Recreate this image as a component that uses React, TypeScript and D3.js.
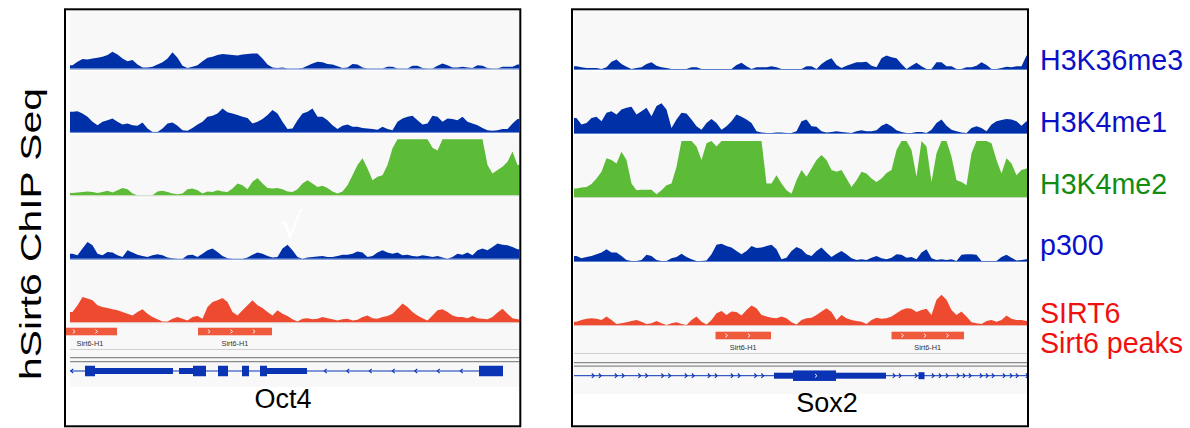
import React from "react";
import * as d3 from "d3";

// ---------- data ----------
const trackNames = ["H3K36me3", "H3K4me1", "H3K4me2", "p300", "SIRT6"];
const trackColors = ["#0030a8", "#0030a8", "#5cbb37", "#0030a8", "#ee4a30"];
const baselineColors = ["#5a7fd0", "#5a7fd0", "#c9d9c0", "#5a7fd0", "#e8b8b0"];
const labelColors = ["#0a10c8", "#0a10c8", "#118c11", "#0a10c8", "#f01010"];
const peakTrackLabel = "Sirt6 peaks";
const peakName = "Sirt6-H1";
const yAxisTitle = "hSirt6 ChIP Seq";

// Oct4 locus (90 bins)
const oct4H3K36me3 = [6,12,17,16,18,19,21,24,30,25, 18,13,15,7,2,2,3,7,11,18, 29,19,5,1,3,6,13,19,21,24, 26,25,24,23,25,26,27,27,18,7, 2,1,2,0,0,0,1,5,9,12, 11,8,7,4,1,2,8,7,2,0, 0,0,0,3,3,0,0,0,5,5, 1,0,0,5,9,6,2,2,3,2, 1,6,5,1,0,0,3,3,3,7];
const oct4H3K4me1 = [36,37,33,27,18,12,18,21,24,18, 13,15,12,11,17,6,0,0,6,15, 17,11,3,2,7,13,18,27,29,33, 42,35,33,30,27,25,15,18,23,30, 39,33,18,5,6,21,33,36,42,27, 27,21,12,5,11,13,9,9,7,6, 5,4,9,5,3,18,24,27,29,21, 13,15,29,27,18,24,23,21,27,18, 15,12,7,3,2,3,5,5,15,23];
const oct4H3K4me2 = [4,5,6,7,6,4,6,8,5,9, 13,11,3,0,0,0,0,7,8,6, 3,2,3,11,12,9,3,7,6,9, 7,6,12,21,18,11,24,31,21,13, 12,13,11,7,6,11,21,27,21,15, 17,13,7,3,7,18,36,54,66,48, 27,33,36,54,84,110,120,125,120,118, 120,100,85,80,110,125,120,120,118,122, 120,118,115,54,39,45,51,60,78,54];
const oct4P300 = [9,6,18,30,24,9,6,12,11,6, 3,15,11,7,5,3,6,8,6,2, 1,0,0,6,7,3,9,15,18,12, 5,1,0,0,0,2,7,11,9,5, 2,3,18,25,15,3,0,2,3,4, 5,3,3,5,7,7,9,13,11,3, 5,11,15,11,9,11,6,7,5,4, 6,5,3,5,2,0,3,9,7,11, 6,15,18,15,21,27,25,24,21,17];
const oct4SIRT6 = [18,30,45,42,39,30,27,25,23,21, 18,15,12,18,23,15,9,5,1,1, 6,9,6,3,9,11,6,27,36,39, 43,36,18,12,21,30,39,30,25,18, 12,21,15,11,5,1,6,7,5,6, 9,7,5,3,5,6,3,4,9,12, 7,6,9,11,15,24,33,27,18,12, 7,3,12,21,23,18,12,9,9,7, 11,7,6,5,9,17,24,15,7,5];

// Sox2 locus (91 bins)
const sox2H3K36me3 = [5,3,2,2,2,0,3,13,17,9, 4,0,2,3,9,12,6,3,2,0, 0,0,0,3,3,0,0,0,0,0, 0,0,7,11,5,0,3,3,3,5, 3,0,0,0,0,0,5,5,0,9, 15,19,7,2,6,9,12,12,13,6, 3,19,24,21,19,9,0,6,11,5, 0,0,12,12,5,5,0,0,3,3, 6,12,7,0,0,2,4,3,5,5, 24];
const sox2H3K4me1 = [27,15,18,27,29,21,36,39,33,42, 45,47,33,39,45,30,48,53,42,9, 24,36,35,24,12,6,18,25,18,6, 12,21,33,29,24,18,3,1,0,0, 1,1,0,0,3,21,24,12,11,3, 1,2,3,2,1,0,3,5,3,3, 5,13,17,12,5,2,0,0,2,2, 0,6,18,24,13,6,3,1,0,9, 12,9,3,15,21,23,25,24,21,13, 21];
const sox2H3K4me2 = [15,17,18,23,33,45,69,66,60,81, 66,24,12,13,13,13,5,12,21,24, 54,120,125,120,90,66,96,120,90,120, 125,120,122,120,125,120,120,118,24,24, 39,24,12,6,30,48,36,51,66,75, 66,48,45,48,33,18,30,45,42,33, 27,33,43,48,84,120,120,84,36,120, 90,27,78,120,120,72,30,27,21,78, 120,120,120,96,66,42,69,60,39,48, 51];
const sox2P300 = [9,5,7,9,12,15,21,15,15,9, 2,0,0,2,11,9,2,0,0,5, 7,13,7,3,0,0,1,12,29,31, 27,24,18,12,18,27,23,24,27,29, 21,3,6,18,25,21,12,9,18,24, 15,7,13,18,12,5,2,3,2,6, 9,5,3,6,12,11,6,7,3,15, 21,5,2,3,2,3,0,11,12,12, 11,0,0,0,0,7,11,6,1,2, 3];
const sox2SIRT6 = [6,9,11,12,11,9,15,9,2,3, 5,7,9,6,2,3,7,3,0,3, 5,2,0,9,15,6,1,9,21,25, 18,24,23,17,27,35,30,18,15,13, 12,15,12,5,1,9,12,13,18,24, 30,23,9,18,12,9,7,6,2,9, 13,11,12,15,21,27,30,29,23,27, 29,18,45,54,45,27,18,24,15,5, 3,2,7,9,6,9,17,11,9,9, 7];

// peaks [start, end] in bins
const oct4Peaks = [[-1.4, 9.4], [25.6, 40.4]];
const sox2Peaks = [[28.3, 39.4], [63.5, 78]];

// gene models: [start, end, kind]
const oct4Exons: [number, number, string][] = [
  [3, 5, "cds"], [5, 20.6, "utr"], [21.8, 24.6, "utr"], [24.6, 27.2, "cds"],
  [29.6, 31.6, "cds"], [34.4, 35.8, "cds"], [38, 39.4, "cds"], [39.4, 47.4, "utr"], [81.8, 86.6, "cds"],
];
const oct4GeneSpan = [0, 86.6];
const oct4IntronArrows = [0.4, 51.1, 55.6, 60.1, 64.7, 69.2, 73.7, 78.3];
const sox2Exons: [number, number, string][] = [
  [40, 43.8, "utr"], [43.8, 52.4, "cds"], [52.4, 62.4, "utr"], [68.9, 70.1, "small"],
];
const sox2GeneSpan = [0, 91];
const sox2IntronArrows = [3.8, 5.2, 8.4, 9.8, 13.1, 14.5, 17.7, 19.1, 22.4, 23.8, 27, 28.4, 31.6, 33, 36.3, 37.7,
  64, 65.2, 68.4, 71.8, 73.2, 74.6, 76.8, 78, 79.2, 81.4, 82.6, 83.8, 86, 87.4, 88.6, 90.6];
const sox2ExonArrows = [48.4];

const geneColor = "#0b34b4";
const peakColor = "#f05a3c";
const FONT = "'Liberation Sans', Arial, Helvetica, sans-serif";

type Cfg = {
  id: string; fx: number; fw: number; x0: number; x1: number; bgBottom: number;
  base0: number; step: number; trackH: number; peakY: number; peakH: number; peakLabelY: number;
  sepY: number; dblY: number[]; geneY: number; geneLabel: string; geneLabelX: number; geneLabelY: number;
};

const leftCfg: Cfg = {
  id: "oct4", fx: 65, fw: 455.3, x0: 70, x1: 520, bgBottom: 387, base0: 68.5, step: 63.4, trackH: 56,
  peakY: 327.7, peakH: 7.6, peakLabelY: 346.3, sepY: 349.5, dblY: [357.7, 361.7], geneY: 371,
  geneLabel: "Oct4", geneLabelX: 283, geneLabelY: 408,
};
const rightCfg: Cfg = {
  id: "sox2", fx: 572, fw: 456, x0: 574, x1: 1029, bgBottom: 394, base0: 69, step: 64, trackH: 56,
  peakY: 331.7, peakH: 7.6, peakLabelY: 350.3, sepY: 353.5, dblY: [362.7, 366.2], geneY: 375.7,
  geneLabel: "Sox2", geneLabelX: 827, geneLabelY: 412,
};

function chevron(cx: number, cy: number, dir: number, w: number, h: number) {
  const p = d3.path();
  p.moveTo(cx - (dir * w) / 2, cy - h / 2);
  p.lineTo(cx + (dir * w) / 2, cy);
  p.lineTo(cx - (dir * w) / 2, cy + h / 2);
  return p.toString();
}

function Panel({ cfg, series, peaks, exons, span, arrows, arrowDir, exonArrows, mark }: any) {
  const n = series[0].length;
  const x = d3.scaleLinear().domain([0, n]).range([cfg.x0, cfg.x1]);
  const clipId = "clip-" + cfg.id;
  const innerLeft = cfg.fx + 1;
  const innerRight = cfg.fx + cfg.fw - 1;

  return (
    <g>
      <defs>
        <clipPath id={clipId}>
          <rect x={innerLeft} y={10} width={innerRight - innerLeft} height={cfg.bgBottom - 10} />
        </clipPath>
      </defs>
      <g clipPath={`url(#${clipId})`}>
        <rect x={cfg.x0} y={10} width={cfg.x1 - cfg.x0} height={cfg.bgBottom - 10} fill="#f8f8f8" />
        {series.map((vals: number[], k: number) => {
          const base = cfg.base0 + k * cfg.step;
          const y = d3.scaleLinear().domain([0, 100]).range([base, base - cfg.trackH]).clamp(true);
          const pts: [number, number][] = [[0, vals[0]], ...vals.map((v, i) => [i + 0.5, v] as [number, number]), [n, vals[n - 1]]];
          const area = d3.area<[number, number]>().x((d) => x(d[0])).y0(base).y1((d) => y(d[1])).curve(d3.curveLinear);
          return (
            <g key={k}>
              <path d={area(pts) || ""} fill={trackColors[k]} />
              <line x1={cfg.x0} x2={cfg.x1} y1={base + 0.5} y2={base + 0.5} stroke={baselineColors[k]} strokeWidth={1} />
              {k < series.length - 1 && (
                <line x1={cfg.x0} x2={cfg.x1} y1={base + 2} y2={base + 2} stroke="#ffffff" strokeWidth={1} />
              )}
            </g>
          );
        })}
        {/* peaks track */}
        {peaks.map((pk: number[], i: number) => {
          const [s, e] = pk;
          const chev = d3.range(s + 2.2, e - 0.8, 4.5);
          return (
            <g key={i}>
              <rect x={x(s)} y={cfg.peakY} width={x(e) - x(s)} height={cfg.peakH} fill={peakColor} />
              {chev.map((c, j) => (
                <path key={j} d={chevron(x(c), cfg.peakY + cfg.peakH / 2, 1, 2.2, 3.6)} fill="none" stroke="#ffffff" strokeWidth={0.9} />
              ))}
              <text x={x((s + e) / 2)} y={cfg.peakLabelY} fontSize={7.3} fill="#333" textAnchor="middle" fontFamily={FONT}>
                {peakName}
              </text>
            </g>
          );
        })}
        <line x1={cfg.x0} x2={cfg.x1} y1={cfg.sepY} y2={cfg.sepY} stroke="#cfcfcf" strokeWidth={1} />
        {cfg.dblY.map((yy: number, i: number) => (
          <line key={i} x1={cfg.x0} x2={cfg.x1} y1={yy} y2={yy} stroke="#8a8a8a" strokeWidth={1.2} />
        ))}
        {/* gene model */}
        <line x1={x(span[0])} x2={x(span[1])} y1={cfg.geneY} y2={cfg.geneY} stroke={geneColor} strokeWidth={1} />
        {exons.map((ex: [number, number, string], i: number) => {
          const h = ex[2] === "cds" ? 10.5 : ex[2] === "utr" ? 6 : 7;
          return <rect key={i} x={x(ex[0])} y={cfg.geneY - h / 2} width={x(ex[1]) - x(ex[0])} height={h} fill={geneColor} />;
        })}
        {arrows.map((a: number, i: number) => (
          <path key={i} d={chevron(x(a), cfg.geneY, arrowDir, 2.4, 4.4)} fill="none" stroke={geneColor} strokeWidth={1.1} />
        ))}
        {exonArrows.map((a: number, i: number) => (
          <path key={i} d={chevron(x(a), cfg.geneY, 1, 2, 3.6)} fill="none" stroke="#ffffff" strokeWidth={0.9} />
        ))}
        {mark && (
          <text x={x(mark.pos)} y={mark.y} fontSize={36} fill="#ffffff" textAnchor="middle" fontFamily="'DejaVu Sans', sans-serif">
            {"\u221A"}
          </text>
        )}
      </g>
      <rect x={cfg.fx} y={9.3} width={cfg.fw} height={417} fill="none" stroke="#000" strokeWidth={2} />
      <text x={cfg.geneLabelX} y={cfg.geneLabelY} fontSize={27} textAnchor="middle" fontFamily={FONT} fill="#000">
        {cfg.geneLabel}
      </text>
    </g>
  );
}

export default function App() {
  const labelYs = [70, 132, 193.5, 255, 323];
  return (
    <svg width={1190} height={428} style={{ position: "absolute", left: 0, top: 0, background: "#fff" }} xmlns="http://www.w3.org/2000/svg">
      <rect x={0} y={0} width={1190} height={428} fill="#fff" />
      <text transform="translate(41,234) rotate(-90)" fontSize={30} textAnchor="middle" fontFamily={FONT} fill="#000"
        textLength={292} lengthAdjust="spacingAndGlyphs">
        {yAxisTitle}
      </text>
      <Panel cfg={leftCfg} series={[oct4H3K36me3, oct4H3K4me1, oct4H3K4me2, oct4P300, oct4SIRT6]} peaks={oct4Peaks}
        exons={oct4Exons} span={oct4GeneSpan} arrows={oct4IntronArrows} arrowDir={-1} exonArrows={[]}
        mark={{ pos: 44.3, y: 238 }} />
      <Panel cfg={rightCfg} series={[sox2H3K36me3, sox2H3K4me1, sox2H3K4me2, sox2P300, sox2SIRT6]} peaks={sox2Peaks}
        exons={sox2Exons} span={sox2GeneSpan} arrows={sox2IntronArrows} arrowDir={1} exonArrows={sox2ExonArrows} mark={null} />
      {trackNames.map((t, i) => (
        <text key={t} x={1040} y={labelYs[i]} fontSize={28.6} fill={labelColors[i]} fontFamily={FONT}>
          {t}
        </text>
      ))}
      <text x={1040} y={353} fontSize={28.6} fill={labelColors[4]} fontFamily={FONT}>
        {peakTrackLabel}
      </text>
    </svg>
  );
}
